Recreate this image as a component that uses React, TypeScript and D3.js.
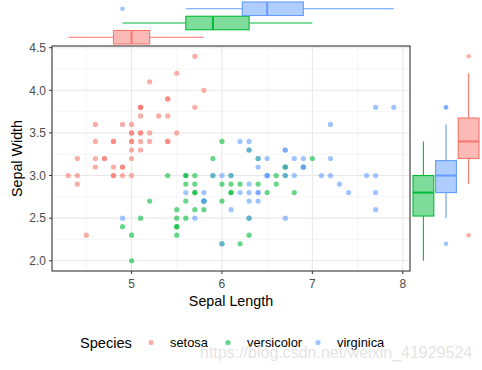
import React from 'react';
import * as d3 from 'd3';

// iris sepal measurements, per species
const species = ['setosa', 'versicolor', 'virginica'];
const colors = ['#F8766D', '#00BA38', '#619CFF'];

const setosaLength = [5.1, 4.9, 4.7, 4.6, 5.0, 5.4, 4.6, 5.0, 4.4, 4.9, 5.4, 4.8, 4.8, 4.3, 5.8, 5.7, 5.4, 5.1, 5.7, 5.1, 5.4, 5.1, 4.6, 5.1, 4.8, 5.0, 5.0, 5.2, 5.2, 4.7, 4.8, 5.4, 5.2, 5.5, 4.9, 5.0, 5.5, 4.9, 4.4, 5.1, 5.0, 4.5, 4.4, 5.0, 5.1, 4.8, 5.1, 4.6, 5.3, 5.0];
const setosaWidth = [3.5, 3.0, 3.2, 3.1, 3.6, 3.9, 3.4, 3.4, 2.9, 3.1, 3.7, 3.4, 3.0, 3.0, 4.0, 4.4, 3.9, 3.5, 3.8, 3.8, 3.4, 3.7, 3.6, 3.3, 3.4, 3.0, 3.4, 3.5, 3.4, 3.2, 3.1, 3.4, 4.1, 4.2, 3.1, 3.2, 3.5, 3.6, 3.0, 3.4, 3.5, 2.3, 3.2, 3.5, 3.8, 3.0, 3.8, 3.2, 3.7, 3.3];
const versicolorLength = [7.0, 6.4, 6.9, 5.5, 6.5, 5.7, 6.3, 4.9, 6.6, 5.2, 5.0, 5.9, 6.0, 6.1, 5.6, 6.7, 5.6, 5.8, 6.2, 5.6, 5.9, 6.1, 6.3, 6.1, 6.4, 6.6, 6.8, 6.7, 6.0, 5.7, 5.5, 5.5, 5.8, 6.0, 5.4, 6.0, 6.7, 6.3, 5.6, 5.5, 5.5, 6.1, 5.8, 5.0, 5.6, 5.7, 5.7, 6.2, 5.1, 5.7];
const versicolorWidth = [3.2, 3.2, 3.1, 2.3, 2.8, 2.8, 3.3, 2.4, 2.9, 2.7, 2.0, 3.0, 2.2, 2.9, 2.9, 3.1, 3.0, 2.7, 2.2, 2.5, 3.2, 2.8, 2.5, 2.8, 2.9, 3.0, 2.8, 3.0, 2.9, 2.6, 2.4, 2.4, 2.7, 2.7, 3.0, 3.4, 3.1, 2.3, 3.0, 2.5, 2.6, 3.0, 2.6, 2.3, 2.7, 3.0, 2.9, 2.9, 2.5, 2.8];
const virginicaLength = [6.3, 5.8, 7.1, 6.3, 6.5, 7.6, 4.9, 7.3, 6.7, 7.2, 6.5, 6.4, 6.8, 5.7, 5.8, 6.4, 6.5, 7.7, 7.7, 6.0, 6.9, 5.6, 7.7, 6.3, 6.7, 7.2, 6.2, 6.1, 6.4, 7.2, 7.4, 7.9, 6.4, 6.3, 6.1, 7.7, 6.3, 6.4, 6.0, 6.9, 6.7, 6.9, 5.8, 6.8, 6.7, 6.7, 6.3, 6.5, 6.2, 5.9];
const virginicaWidth = [3.3, 2.7, 3.0, 2.9, 3.0, 3.0, 2.5, 2.9, 2.5, 3.6, 3.2, 2.7, 3.0, 2.5, 2.8, 3.2, 3.0, 3.8, 2.6, 2.2, 3.2, 2.8, 2.8, 2.7, 3.3, 3.2, 2.8, 3.0, 2.8, 3.0, 2.8, 3.8, 2.8, 2.8, 2.6, 3.0, 3.4, 3.1, 3.0, 3.1, 3.1, 3.1, 2.7, 3.2, 3.3, 3.0, 2.5, 3.0, 3.4, 3.0];

const xTicks = [5, 6, 7, 8];
const yTicks = [2.0, 2.5, 3.0, 3.5, 4.0, 4.5];

const lengths = [setosaLength, versicolorLength, virginicaLength];
const widths = [setosaWidth, versicolorWidth, virginicaWidth];

const W = 482, H = 370;
const panel = { left: 52, right: 410, top: 46, bottom: 271 };

function boxStats(vals: number[]) {
  const s = vals.slice().sort(d3.ascending);
  const q1 = d3.quantile(s, 0.25)!;
  const med = d3.quantile(s, 0.5)!;
  const q3 = d3.quantile(s, 0.75)!;
  const iqr = q3 - q1;
  const inside = s.filter(v => v >= q1 - 1.5 * iqr && v <= q3 + 1.5 * iqr);
  const outliers = s.filter(v => v < q1 - 1.5 * iqr || v > q3 + 1.5 * iqr);
  return { q1, med, q3, lo: d3.min(inside)!, hi: d3.max(inside)!, outliers };
}

const font = 'Liberation Sans, Arial, sans-serif';

export default function App() {
  const xExt = [d3.min(lengths.flat())!, d3.max(lengths.flat())!];
  const yExt = [d3.min(widths.flat())!, d3.max(widths.flat())!];
  const xPad = (xExt[1] - xExt[0]) * 0.05;
  const yPad = (yExt[1] - yExt[0]) * 0.05;
  const x = d3.scaleLinear().domain([xExt[0] - xPad, xExt[1] + xPad]).range([panel.left, panel.right]);
  const y = d3.scaleLinear().domain([yExt[0] - yPad, yExt[1] + yPad]).range([panel.bottom, panel.top]);

  // marginal box positions
  const topBand = d3.scaleBand().domain(['virginica', 'versicolor', 'setosa']).range([2, 44]).paddingInner(0.05);
  const rightBand = d3.scaleBand().domain(['versicolor', 'virginica', 'setosa']).range([413, 479]).paddingInner(0.08);

  const xMinor = d3.range(4.5, 8.01, 1);
  const yMinor = d3.range(2.25, 4.6, 0.5);

  return (
    <svg width={W} height={H} style={{ position: 'absolute', left: 0, top: 0, background: '#fff' }} fontFamily={font}>
      {/* grid */}
      {xMinor.map(v => <line key={'xm' + v} x1={x(v)} x2={x(v)} y1={panel.top} y2={panel.bottom} stroke="#f0f0f0" strokeWidth={0.6} />)}
      {yMinor.map(v => <line key={'ym' + v} y1={y(v)} y2={y(v)} x1={panel.left} x2={panel.right} stroke="#f0f0f0" strokeWidth={0.6} />)}
      {xTicks.map(v => <line key={'xg' + v} x1={x(v)} x2={x(v)} y1={panel.top} y2={panel.bottom} stroke="#e8e8e8" strokeWidth={1.1} />)}
      {yTicks.map(v => <line key={'yg' + v} y1={y(v)} y2={y(v)} x1={panel.left} x2={panel.right} stroke="#e8e8e8" strokeWidth={1.1} />)}

      {/* points */}
      {species.map((sp, i) => lengths[i].map((l, j) => (
        <circle key={sp + j} cx={x(l)} cy={y(widths[i][j])} r={2.6} fill={colors[i]} fillOpacity={0.6} />
      )))}

      <rect x={panel.left} y={panel.top} width={panel.right - panel.left} height={panel.bottom - panel.top} fill="none" stroke="#333" strokeWidth={1.1} />

      {/* ticks */}
      {xTicks.map(v => (
        <g key={'xt' + v}>
          <line x1={x(v)} x2={x(v)} y1={panel.bottom} y2={panel.bottom + 3} stroke="#333" />
          <text x={x(v)} y={panel.bottom + 17} textAnchor="middle" fontSize={12} fill="#4d4d4d">{v}</text>
        </g>
      ))}
      {yTicks.map(v => (
        <g key={'yt' + v}>
          <line x1={panel.left - 3} x2={panel.left} y1={y(v)} y2={y(v)} stroke="#333" />
          <text x={panel.left - 6} y={y(v) + 4.2} textAnchor="end" fontSize={12} fill="#4d4d4d">{v.toFixed(1)}</text>
        </g>
      ))}

      <text x={(panel.left + panel.right) / 2} y={306} textAnchor="middle" fontSize={14.3} fill="#000">Sepal Length</text>
      <text transform={`translate(22,${(panel.top + panel.bottom) / 2}) rotate(-90)`} textAnchor="middle" fontSize={14.3} fill="#000">Sepal Width</text>

      {/* top marginal boxplots */}
      {species.map((sp, i) => {
        const b = boxStats(lengths[i]);
        const y0 = topBand(sp)!, bw = topBand.bandwidth(), yc = y0 + bw / 2;
        return (
          <g key={'tb' + sp}>
            <line x1={x(b.lo)} x2={x(b.q1)} y1={yc} y2={yc} stroke={colors[i]} strokeWidth={1.1} />
            <line x1={x(b.q3)} x2={x(b.hi)} y1={yc} y2={yc} stroke={colors[i]} strokeWidth={1.1} />
            <rect x={x(b.q1)} y={y0} width={x(b.q3) - x(b.q1)} height={bw} fill={colors[i]} fillOpacity={0.5} stroke={colors[i]} strokeWidth={1.1} />
            <line x1={x(b.med)} x2={x(b.med)} y1={y0} y2={y0 + bw} stroke={colors[i]} strokeWidth={2} />
            {b.outliers.map((o, k) => <circle key={k} cx={x(o)} cy={yc} r={2.3} fill={colors[i]} fillOpacity={0.6} />)}
          </g>
        );
      })}

      {/* right marginal boxplots */}
      {species.map((sp, i) => {
        const b = boxStats(widths[i]);
        const x0 = rightBand(sp)!, bw = rightBand.bandwidth(), xc = x0 + bw / 2;
        return (
          <g key={'rb' + sp}>
            <line y1={y(b.lo)} y2={y(b.q1)} x1={xc} x2={xc} stroke={colors[i]} strokeWidth={1.1} />
            <line y1={y(b.q3)} y2={y(b.hi)} x1={xc} x2={xc} stroke={colors[i]} strokeWidth={1.1} />
            <rect y={y(b.q3)} x={x0} height={y(b.q1) - y(b.q3)} width={bw} fill={colors[i]} fillOpacity={0.5} stroke={colors[i]} strokeWidth={1.1} />
            <line y1={y(b.med)} y2={y(b.med)} x1={x0} x2={x0 + bw} stroke={colors[i]} strokeWidth={2} />
            {b.outliers.map((o, k) => <circle key={k} cy={y(o)} cx={xc} r={2.3} fill={colors[i]} fillOpacity={0.6} />)}
          </g>
        );
      })}

      {/* legend */}
      <text x={80} y={348} fontSize={14.6} fill="#000">Species</text>
      {species.map((sp, i) => {
        const lx = [151, 228, 318][i];
        return (
          <g key={'lg' + sp}>
            <circle cx={lx} cy={342.5} r={2.6} fill={colors[i]} fillOpacity={0.6} />
            <text x={lx + 19} y={347} fontSize={12.9} fill="#000">{sp}</text>
          </g>
        );
      })}

      <text x={200} y={357.5} fontSize={16} fill="#dedede" fillOpacity={0.85}>https://blog.csdn.net/weixin_41929524</text>
    </svg>
  );
}
